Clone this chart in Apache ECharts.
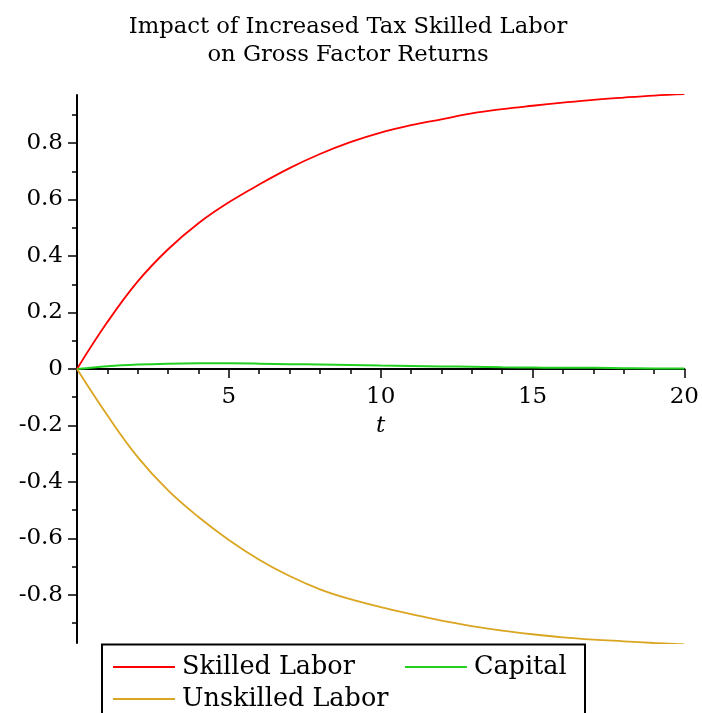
<!DOCTYPE html>
<html>
<head>
<meta charset="utf-8">
<script src="https://cdn.jsdelivr.net/npm/echarts@6/dist/echarts.min.js"></script>
<style>
html,body{margin:0;padding:0;background:#fff;}
#chart{width:702px;height:713px;}
</style>
</head>
<body>
<div id="chart"></div>
<script>
const titleText = 'Impact of Increased Tax Skilled Labor\non Gross Factor Returns';
const seriesNames = ['Skilled Labor', 'Capital', 'Unskilled Labor'];
const tValues = [0,1,2,3,4,5,6,7,8,9,10,11,12,13,14,15,16,17,18,19,20];
const skilledLabor = [0,0.166,0.310,0.424,0.516,0.590,0.653,0.711,0.761,0.803,0.837,0.863,0.884,0.905,0.920,0.932,0.943,0.953,0.961,0.968,0.973];
const capital = [0,0.010,0.016,0.019,0.020,0.020,0.019,0.017,0.016,0.014,0.012,0.011,0.009,0.008,0.006,0.005,0.004,0.004,0.003,0.002,0.002];
const unskilledLabor = [0,-0.164,-0.312,-0.430,-0.524,-0.605,-0.675,-0.733,-0.780,-0.815,-0.843,-0.868,-0.891,-0.910,-0.926,-0.939,-0.950,-0.958,-0.964,-0.970,-0.975];
const yLabelValues = [-0.8,-0.6,-0.4,-0.2,0,0.2,0.4,0.6,0.8];
const yMinorValues = [-0.9,-0.7,-0.5,-0.3,-0.1,0.1,0.3,0.5,0.7,0.9];

const FONT = 'DejaVu Serif';
const colors = ['#ff0000', '#22d022', '#daa520'];
const pairs = arr => tValues.map((t, i) => [t, arr[i]]);

const chart = echarts.init(document.getElementById('chart'));
chart.setOption({
  animation: false,
  backgroundColor: '#fff',
  title: {
    text: titleText,
    left: 343,
    top: 8,
    textAlign: 'center',
    textStyle: {fontFamily: FONT, fontSize: 22.7, fontWeight: 'normal', color: '#000', lineHeight: 28}
  },
  grid: {left: 77, right: 17, top: 95, bottom: 70, containLabel: false},
  xAxis: {
    type: 'value', min: 0, max: 20, interval: 5,
    position: 'bottom', offset: -274,
    name: 't', nameLocation: 'middle', nameGap: 46,
    nameTextStyle: {fontFamily: FONT, fontSize: 23, fontStyle: 'italic', color: '#000'},
    axisLine: {onZero: false, lineStyle: {color: '#000', width: 2}},
    axisTick: {show: true, length: 9, lineStyle: {color: '#000', width: 1.5}},
    minorTick: {show: true, splitNumber: 5, length: 5, lineStyle: {color: '#000', width: 1.5}},
    axisLabel: {showMinLabel: false, margin: 17, fontFamily: FONT, fontSize: 23, color: '#000'},
    splitLine: {show: false}
  },
  yAxis: [{
    type: 'value', min: -0.97, max: 0.97,
    axisLine: {show: true, onZero: false, lineStyle: {color: '#000', width: 2}},
    axisTick: {show: true, length: 9, customValues: yLabelValues, lineStyle: {color: '#000', width: 1.5}},
    axisLabel: {customValues: yLabelValues, margin: 14, fontFamily: FONT, fontSize: 23, color: '#000',
      formatter: v => Math.abs(v) < 1e-9 ? '0' : v.toFixed(1)},
    splitLine: {show: false}
  }, {
    type: 'value', min: -0.97, max: 0.97, position: 'left',
    axisLine: {show: false, onZero: false},
    axisTick: {show: true, length: 5, customValues: yMinorValues, lineStyle: {color: '#000', width: 1.5}},
    axisLabel: {show: false},
    splitLine: {show: false}
  }],
  legend: [{
    data: [seriesNames[0], seriesNames[1]],
    left: 108, top: 649, orient: 'horizontal',
    icon: 'rect', itemWidth: 62, itemHeight: 2, itemGap: 50,
    textStyle: {fontFamily: FONT, fontSize: 25.5, color: '#000', padding: [0,0,0,2]}
  }, {
    data: [seriesNames[2]],
    left: 108, top: 681, orient: 'horizontal',
    icon: 'rect', itemWidth: 62, itemHeight: 2,
    textStyle: {fontFamily: FONT, fontSize: 25.5, color: '#000', padding: [0,0,0,2]}
  }],
  graphic: [{
    type: 'rect', z: -1,
    shape: {x: 102, y: 644.5, width: 483, height: 90},
    style: {fill: '#fff', stroke: '#000', lineWidth: 2}
  }],
  series: [
    {name: seriesNames[0], type: 'line', data: pairs(skilledLabor), smooth: 0.4, showSymbol: false,
     lineStyle: {color: colors[0], width: 1.8}, itemStyle: {color: colors[0]}},
    {name: seriesNames[1], type: 'line', data: pairs(capital), smooth: 0.4, showSymbol: false,
     lineStyle: {color: colors[1], width: 2}, itemStyle: {color: colors[1]}},
    {name: seriesNames[2], type: 'line', data: pairs(unskilledLabor), smooth: 0.4, showSymbol: false,
     lineStyle: {color: colors[2], width: 1.8}, itemStyle: {color: colors[2]}}
  ]
});
</script>
</body>
</html>
